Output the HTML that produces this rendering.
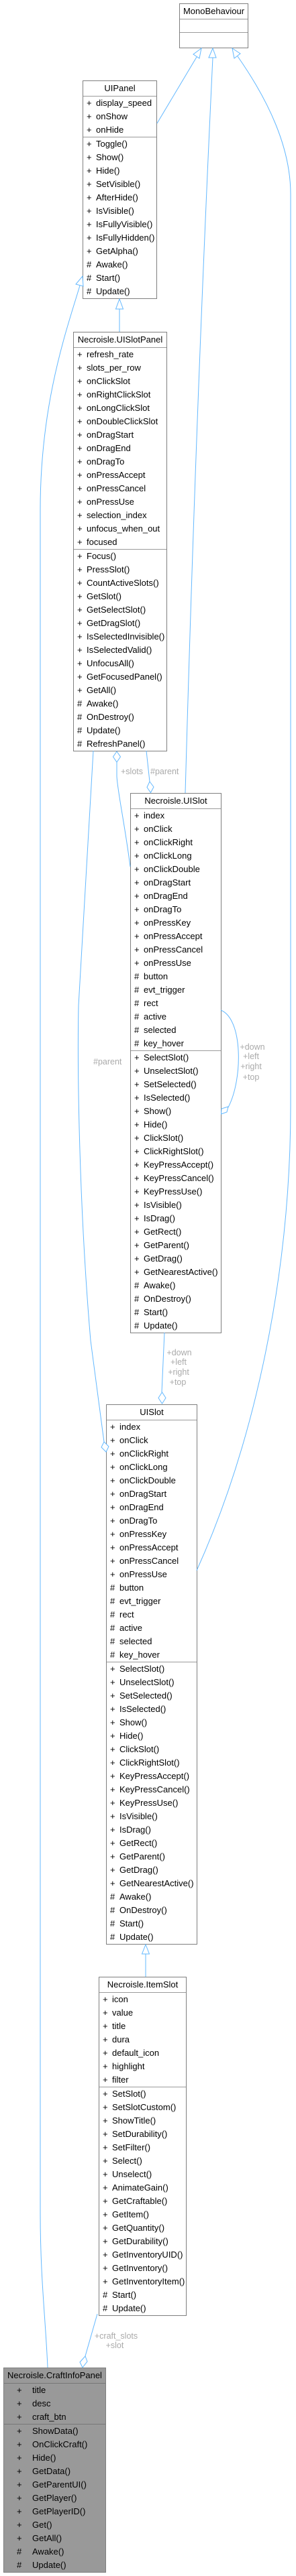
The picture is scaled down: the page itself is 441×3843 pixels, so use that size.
<!DOCTYPE html>
<html><head><meta charset="utf-8"><style>
html,body{margin:0;padding:0;background:#fff;}
body{width:441px;height:3843px;position:relative;overflow:hidden;font-family:"Liberation Sans",Arial,sans-serif;font-size:13px;color:#000;}
.b{position:absolute;box-sizing:border-box;border:1px solid #7f7f7f;background:#fff;overflow:hidden;}
.t{height:22px;line-height:22px;text-align:center;border-bottom:1px solid #9a9a9a;white-space:nowrap;}
.s2{border-top:1px solid #9a9a9a;}
.r{height:20px;line-height:20px;padding-left:5px;white-space:nowrap;}
.r i{font-style:normal;display:inline-block;width:14px;}
.g{background:#999;}
.g .r{padding-left:19px;}
.g .r i{width:23px;}
.g .t,.g .s2{border-color:#777;}
svg{position:absolute;left:0;top:0;}
</style></head><body>

<div class="b" style="left:267px;top:5px;width:103px;height:67px"><div class="t">MonoBehaviour</div><div style="height:19px"></div><div class="s2"></div></div>

<div class="b" style="left:123px;top:120px;width:111px;height:326px"><div class="t">UIPanel</div>
<div><div class="r"><i>+</i>display_speed</div><div class="r"><i>+</i>onShow</div><div class="r"><i>+</i>onHide</div></div>
<div class="s2"><div class="r"><i>+</i>Toggle()</div><div class="r"><i>+</i>Show()</div><div class="r"><i>+</i>Hide()</div><div class="r"><i>+</i>SetVisible()</div><div class="r"><i>+</i>AfterHide()</div><div class="r"><i>+</i>IsVisible()</div><div class="r"><i>+</i>IsFullyVisible()</div><div class="r"><i>+</i>IsFullyHidden()</div><div class="r"><i>+</i>GetAlpha()</div><div class="r"><i>#</i>Awake()</div><div class="r"><i>#</i>Start()</div><div class="r"><i>#</i>Update()</div></div></div>

<div class="b" style="left:109px;top:495px;width:140px;height:626px"><div class="t">Necroisle.UISlotPanel</div>
<div><div class="r"><i>+</i>refresh_rate</div><div class="r"><i>+</i>slots_per_row</div><div class="r"><i>+</i>onClickSlot</div><div class="r"><i>+</i>onRightClickSlot</div><div class="r"><i>+</i>onLongClickSlot</div><div class="r"><i>+</i>onDoubleClickSlot</div><div class="r"><i>+</i>onDragStart</div><div class="r"><i>+</i>onDragEnd</div><div class="r"><i>+</i>onDragTo</div><div class="r"><i>+</i>onPressAccept</div><div class="r"><i>+</i>onPressCancel</div><div class="r"><i>+</i>onPressUse</div><div class="r"><i>+</i>selection_index</div><div class="r"><i>+</i>unfocus_when_out</div><div class="r"><i>+</i>focused</div></div>
<div class="s2"><div class="r"><i>+</i>Focus()</div><div class="r"><i>+</i>PressSlot()</div><div class="r"><i>+</i>CountActiveSlots()</div><div class="r"><i>+</i>GetSlot()</div><div class="r"><i>+</i>GetSelectSlot()</div><div class="r"><i>+</i>GetDragSlot()</div><div class="r"><i>+</i>IsSelectedInvisible()</div><div class="r"><i>+</i>IsSelectedValid()</div><div class="r"><i>+</i>UnfocusAll()</div><div class="r"><i>+</i>GetFocusedPanel()</div><div class="r"><i>+</i>GetAll()</div><div class="r"><i>#</i>Awake()</div><div class="r"><i>#</i>OnDestroy()</div><div class="r"><i>#</i>Update()</div><div class="r"><i>#</i>RefreshPanel()</div></div></div>

<div class="b" style="left:194px;top:1183px;width:136px;height:806px"><div class="t">Necroisle.UISlot</div>
<div><div class="r"><i>+</i>index</div><div class="r"><i>+</i>onClick</div><div class="r"><i>+</i>onClickRight</div><div class="r"><i>+</i>onClickLong</div><div class="r"><i>+</i>onClickDouble</div><div class="r"><i>+</i>onDragStart</div><div class="r"><i>+</i>onDragEnd</div><div class="r"><i>+</i>onDragTo</div><div class="r"><i>+</i>onPressKey</div><div class="r"><i>+</i>onPressAccept</div><div class="r"><i>+</i>onPressCancel</div><div class="r"><i>+</i>onPressUse</div><div class="r"><i>#</i>button</div><div class="r"><i>#</i>evt_trigger</div><div class="r"><i>#</i>rect</div><div class="r"><i>#</i>active</div><div class="r"><i>#</i>selected</div><div class="r"><i>#</i>key_hover</div></div>
<div class="s2"><div class="r"><i>+</i>SelectSlot()</div><div class="r"><i>+</i>UnselectSlot()</div><div class="r"><i>+</i>SetSelected()</div><div class="r"><i>+</i>IsSelected()</div><div class="r"><i>+</i>Show()</div><div class="r"><i>+</i>Hide()</div><div class="r"><i>+</i>ClickSlot()</div><div class="r"><i>+</i>ClickRightSlot()</div><div class="r"><i>+</i>KeyPressAccept()</div><div class="r"><i>+</i>KeyPressCancel()</div><div class="r"><i>+</i>KeyPressUse()</div><div class="r"><i>+</i>IsVisible()</div><div class="r"><i>+</i>IsDrag()</div><div class="r"><i>+</i>GetRect()</div><div class="r"><i>+</i>GetParent()</div><div class="r"><i>+</i>GetDrag()</div><div class="r"><i>+</i>GetNearestActive()</div><div class="r"><i>#</i>Awake()</div><div class="r"><i>#</i>OnDestroy()</div><div class="r"><i>#</i>Start()</div><div class="r"><i>#</i>Update()</div></div></div>

<div class="b" style="left:158px;top:2095px;width:136px;height:806px"><div class="t">UISlot</div>
<div><div class="r"><i>+</i>index</div><div class="r"><i>+</i>onClick</div><div class="r"><i>+</i>onClickRight</div><div class="r"><i>+</i>onClickLong</div><div class="r"><i>+</i>onClickDouble</div><div class="r"><i>+</i>onDragStart</div><div class="r"><i>+</i>onDragEnd</div><div class="r"><i>+</i>onDragTo</div><div class="r"><i>+</i>onPressKey</div><div class="r"><i>+</i>onPressAccept</div><div class="r"><i>+</i>onPressCancel</div><div class="r"><i>+</i>onPressUse</div><div class="r"><i>#</i>button</div><div class="r"><i>#</i>evt_trigger</div><div class="r"><i>#</i>rect</div><div class="r"><i>#</i>active</div><div class="r"><i>#</i>selected</div><div class="r"><i>#</i>key_hover</div></div>
<div class="s2"><div class="r"><i>+</i>SelectSlot()</div><div class="r"><i>+</i>UnselectSlot()</div><div class="r"><i>+</i>SetSelected()</div><div class="r"><i>+</i>IsSelected()</div><div class="r"><i>+</i>Show()</div><div class="r"><i>+</i>Hide()</div><div class="r"><i>+</i>ClickSlot()</div><div class="r"><i>+</i>ClickRightSlot()</div><div class="r"><i>+</i>KeyPressAccept()</div><div class="r"><i>+</i>KeyPressCancel()</div><div class="r"><i>+</i>KeyPressUse()</div><div class="r"><i>+</i>IsVisible()</div><div class="r"><i>+</i>IsDrag()</div><div class="r"><i>+</i>GetRect()</div><div class="r"><i>+</i>GetParent()</div><div class="r"><i>+</i>GetDrag()</div><div class="r"><i>+</i>GetNearestActive()</div><div class="r"><i>#</i>Awake()</div><div class="r"><i>#</i>OnDestroy()</div><div class="r"><i>#</i>Start()</div><div class="r"><i>#</i>Update()</div></div></div>

<div class="b" style="left:147px;top:2949px;width:131px;height:506px"><div class="t">Necroisle.ItemSlot</div>
<div><div class="r"><i>+</i>icon</div><div class="r"><i>+</i>value</div><div class="r"><i>+</i>title</div><div class="r"><i>+</i>dura</div><div class="r"><i>+</i>default_icon</div><div class="r"><i>+</i>highlight</div><div class="r"><i>+</i>filter</div></div>
<div class="s2"><div class="r"><i>+</i>SetSlot()</div><div class="r"><i>+</i>SetSlotCustom()</div><div class="r"><i>+</i>ShowTitle()</div><div class="r"><i>+</i>SetDurability()</div><div class="r"><i>+</i>SetFilter()</div><div class="r"><i>+</i>Select()</div><div class="r"><i>+</i>Unselect()</div><div class="r"><i>+</i>AnimateGain()</div><div class="r"><i>+</i>GetCraftable()</div><div class="r"><i>+</i>GetItem()</div><div class="r"><i>+</i>GetQuantity()</div><div class="r"><i>+</i>GetDurability()</div><div class="r"><i>+</i>GetInventoryUID()</div><div class="r"><i>+</i>GetInventory()</div><div class="r"><i>+</i>GetInventoryItem()</div><div class="r"><i>#</i>Start()</div><div class="r"><i>#</i>Update()</div></div></div>

<div class="b g" style="left:5px;top:3532px;width:153px;height:306px"><div class="t">Necroisle.CraftInfoPanel</div>
<div><div class="r"><i>+</i>title</div><div class="r"><i>+</i>desc</div><div class="r"><i>+</i>craft_btn</div></div>
<div class="s2"><div class="r"><i>+</i>ShowData()</div><div class="r"><i>+</i>OnClickCraft()</div><div class="r"><i>+</i>Hide()</div><div class="r"><i>+</i>GetData()</div><div class="r"><i>+</i>GetParentUI()</div><div class="r"><i>+</i>GetPlayer()</div><div class="r"><i>+</i>GetPlayerID()</div><div class="r"><i>+</i>Get()</div><div class="r"><i>+</i>GetAll()</div><div class="r"><i>#</i>Awake()</div><div class="r"><i>#</i>Update()</div></div></div>

<svg width="441" height="3843" viewBox="0 0 441 3843">
<g fill="none" stroke="#63b8ff" stroke-width="1">
<path d="M234,184 L293,85"/>
<path d="M276,1183 C288,750 302,400 317,86"/>
<path d="M354,84 C400,150 433,220 433,290 L433,1650 C433,1900 380,2150 293,2343"/>
<path d="M119,426 C100,490 60,600 60,760 L60,3300 C60,3400 68,3460 71,3532"/>
<path d="M178,461 L178,495"/>
<path d="M217,2915 L217,2949"/>
<path d="M218,1120 L223,1166"/>
<path d="M174,1137 L174,1158 C175,1180 186,1230 194,1293"/>
<path d="M329,1507 C362,1520 362,1610 340,1652"/>
<path d="M139,1120 L117,1500 C115,1600 118,1800 135,2000 L155,2151"/>
<path d="M245,1988 L241,2077"/>
<path d="M145,3452 L127,3515"/>
</g>
<g fill="#fff" stroke="#63b8ff" stroke-width="1">
<polygon points="300,72 297,87 288,81"/>
<polygon points="317,72 322,86 311,86"/>
<polygon points="346,72 358,80 349,87"/>
<polygon points="123,412 124,427 113,424"/>
<polygon points="178,446 183.5,461 172.5,461"/>
<polygon points="217,2901 222.5,2915 211.5,2915"/>
<polygon points="174,1121 179.5,1129 174,1137 168.5,1129"/>
<polygon points="223,1166 229,1174 224.5,1182.5 219,1174.5"/>
<polygon points="329.5,1662 330,1654 340,1651 338,1659"/>
<polygon points="155,2151 162,2158 158,2166 151,2159"/>
<polygon points="241.5,2077 247,2085.5 241.5,2094 236,2085.5"/>
<polygon points="127,3515 130,3523 123,3532 119,3524"/>
</g>
<g fill="#aaa" font-family="Liberation Sans, Arial, sans-serif" font-size="12.5">
<text x="180" y="1155">+slots</text>
<text x="224" y="1155">#parent</text>
<g text-anchor="middle">
<text x="376" y="1566">+down</text><text x="374" y="1580">+left</text><text x="374" y="1595">+right</text><text x="374" y="1611">+top</text>
<text x="267" y="2022">+down</text><text x="266" y="2036">+left</text><text x="266" y="2051">+right</text><text x="265" y="2066">+top</text>
<text x="173" y="3489">+craft_slots</text><text x="171" y="3503">+slot</text>
</g>
<text x="139" y="1588">#parent</text>
</g>
</svg>
</body></html>
